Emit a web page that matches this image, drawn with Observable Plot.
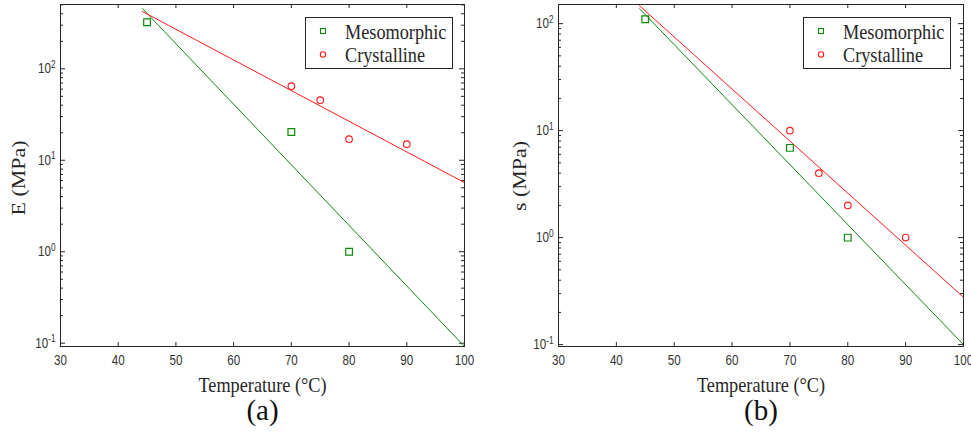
<!DOCTYPE html>
<html><head><meta charset="utf-8">
<script src="https://cdn.jsdelivr.net/npm/d3@7"></script>
<script src="https://cdn.jsdelivr.net/npm/@observablehq/plot@0.6"></script>
<style>
body{margin:0;background:#fff;}
#wrap{position:relative;width:971px;height:433px;overflow:hidden;background:#fff;}
.panel{position:absolute;top:0;}
.legend{position:absolute;top:17px;overflow:visible;}
</style></head>
<body><div id="wrap"></div>
<script>
// ---- data ----
const temperatureTicks = [30, 40, 50, 60, 70, 80, 90, 100];
const logMajorTicks = [0.1, 1, 10, 100];
const seriesNames = ["Mesomorphic", "Crystalline"];
const panelTags = ["(a)", "(b)"];
const yLabels = ["E (MPa)", "s (MPa)"];
const xLabel = "Temperature (°C)";

// panel (a): modulus E
const aMesoT = [45, 70, 80];
const aMesoV = [323, 20.4, 1.0];
const aCrysT = [70, 75, 80, 90];
const aCrysV = [64.6, 45.4, 17, 15];
const aMesoFitT = [44.2, 100];
const aMesoFitV = [456, 0.092];
const aCrysFitT = [44.2, 100];
const aCrysFitV = [423, 5.7];

// panel (b): strength s
const bMesoT = [45, 70, 80];
const bMesoV = [110, 6.9, 1.0];
const bCrysT = [70, 75, 80, 90];
const bCrysV = [10, 4, 2, 1];
const bMesoFitT = [44.0, 100];
const bMesoFitV = [138, 0.1];
const bCrysFitT = [44.0, 100];
const bCrysFitV = [147, 0.277];

const GREEN = "#0b8a0b";
const RED = "#ff1a1a";
const INK = "#262626";
const TICKINK = "#333";
const SERIF = "'Liberation Serif', 'Times New Roman', serif";
const SQ = 0.83; // horizontal squeeze of the figure's lettering

const zip = (T, V) => T.map((t, i) => ({t, v: V[i]}));

function logMinors(domain) {
  const out = [];
  for (let p = -2; p <= 3; p++) for (let m = 2; m <= 9; m++) {
    const v = m * Math.pow(10, p);
    if (v >= domain[0] && v <= domain[1]) out.push(v);
  }
  return out;
}

function makePanel(cfg) {
  const height = 433, marginTop = 4, marginBottom = 87;
  const {width, marginLeft, marginRight, yDomain} = cfg;
  const pw = width - marginLeft - marginRight;
  const ph = height - marginTop - marginBottom;
  const minors = logMinors(yDomain);
  const svg = Plot.plot({
    width, height, marginTop, marginBottom, marginLeft, marginRight,
    x: {domain: [30, 100], label: null},
    y: {type: "log", domain: yDomain, label: null},
    style: {fontFamily: "'Liberation Sans', Arial, sans-serif", fontSize: "14px", color: TICKINK, background: "white", overflow: "visible"},
    marks: [
      Plot.axisX({ticks: temperatureTicks, tickSize: 0, tickPadding: 9, tickFormat: d => String(d), label: null, fill: TICKINK}),
      Plot.axisY({ticks: logMajorTicks, tickSize: 0, tickPadding: 5, tickFormat: d => "10^" + Math.round(Math.log10(d)), label: null, fill: TICKINK}),
      Plot.tickX(temperatureTicks, {x: d => d, insetTop: ph - 4, stroke: INK}),
      Plot.tickX(temperatureTicks, {x: d => d, insetBottom: ph - 4, stroke: INK}),
      Plot.tickY(logMajorTicks, {y: d => d, insetRight: pw - 5, stroke: INK}),
      Plot.tickY(logMajorTicks, {y: d => d, insetLeft: pw - 5, stroke: INK}),
      Plot.tickY(minors, {y: d => d, insetRight: pw - 3, stroke: INK}),
      Plot.tickY(minors, {y: d => d, insetLeft: pw - 3, stroke: INK}),
      Plot.line(zip(cfg.mesoFitT, cfg.mesoFitV), {x: "t", y: "v", stroke: GREEN, strokeWidth: 1, clip: true}),
      Plot.line(zip(cfg.crysFitT, cfg.crysFitV), {x: "t", y: "v", stroke: RED, strokeWidth: 1, clip: true}),
      Plot.dot(zip(cfg.mesoT, cfg.mesoV), {x: "t", y: "v", symbol: "square", r: 3.8, stroke: GREEN, strokeWidth: 1.2}),
      Plot.dot(zip(cfg.crysT, cfg.crysV), {x: "t", y: "v", symbol: "circle", r: 3.3, stroke: RED, strokeWidth: 1.1}),
      Plot.frame({stroke: INK}),
      Plot.text([xLabel], {frameAnchor: "bottom", dy: 38, textAnchor: "middle", lineAnchor: "middle", fontFamily: SERIF, fontSize: 22, fill: INK}),
      Plot.text([cfg.tag], {frameAnchor: "bottom", dy: 64, textAnchor: "middle", lineAnchor: "middle", fontFamily: SERIF, fontSize: 29, fill: "#111"}),
      Plot.text([cfg.yLabel], {frameAnchor: "left", dx: cfg.yLabelDx, rotate: -90, textAnchor: "middle", lineAnchor: "middle", fontFamily: SERIF, fontSize: 22, fill: INK})
    ]
  });
  const root = d3.select(svg);
  // superscript exponents on log tick labels
  root.selectAll('g[aria-label="y-axis tick label"] text').each(function() {
    const m = this.textContent.match(/^10\^(-?\d+)$/);
    if (!m) return;
    const t = d3.select(this);
    t.text("10");
    t.append("tspan").attr("dy", "-0.55em").attr("font-size", "10px").text(m[1]);
  });
  // squeeze the figure lettering horizontally (not the panel tag)
  root.selectAll('g[aria-label="x-axis tick label"] text, g[aria-label="y-axis tick label"] text').each(function() {
    this.setAttribute("transform", (this.getAttribute("transform") || "") + ` scale(${SQ},1)`);
  });
  let yLabelEl = null;
  root.selectAll('g[aria-label="text"] text').each(function() {
    const s = this.textContent;
    if (s === cfg.tag) return;
    const isY = s === cfg.yLabel;
    if (isY) yLabelEl = this;
    const sc = isY ? ` scale(1,${SQ})` : ` scale(${SQ},1)`;
    this.setAttribute("transform", (this.getAttribute("transform") || "") + sc);
  });
  svg.classList.add("panel");
  svg.style.left = cfg.left + "px";
  return {svg, yLabelEl};
}

function makeLegend(left) {
  const w = 148, h = 52;
  const s = d3.create("svg").attr("class", "legend").attr("width", w).attr("height", h)
    .style("left", left + "px");
  s.append("rect").attr("x", 0.5).attr("y", 0.5).attr("width", w - 1).attr("height", h - 1)
    .attr("fill", "white").attr("stroke", INK);
  s.append("rect").attr("x", 15.5).attr("y", 11.5).attr("width", 5).attr("height", 5)
    .attr("fill", "none").attr("stroke", GREEN).attr("stroke-width", 1.1);
  s.append("circle").attr("cx", 18).attr("cy", 37.5).attr("r", 2.7)
    .attr("fill", "none").attr("stroke", RED).attr("stroke-width", 1.1);
  [[seriesNames[0], 21.5], [seriesNames[1], 45]].forEach(([txt, yb]) => {
    s.append("text").attr("transform", `translate(40,${yb}) scale(${SQ},1)`)
      .attr("font-family", SERIF).attr("font-size", 22).attr("fill", INK).text(txt);
  });
  return s.node();
}

const wrap = document.getElementById("wrap");
const pa = makePanel({
  left: 0, width: 485, marginLeft: 60, marginRight: 21, yDomain: [0.092, 505],
  mesoT: aMesoT, mesoV: aMesoV, crysT: aCrysT, crysV: aCrysV,
  mesoFitT: aMesoFitT, mesoFitV: aMesoFitV, crysFitT: aCrysFitT, crysFitV: aCrysFitV,
  tag: panelTags[0], yLabel: yLabels[0], yLabelDx: -41
});
const pb = makePanel({
  left: 490, width: 481, marginLeft: 68, marginRight: 8, yDomain: [0.096, 151],
  mesoT: bMesoT, mesoV: bMesoV, crysT: bCrysT, crysV: bCrysV,
  mesoFitT: bMesoFitT, mesoFitV: bMesoFitV, crysFitT: bCrysFitT, crysFitV: bCrysFitV,
  tag: panelTags[1], yLabel: yLabels[1], yLabelDx: -38
});
wrap.appendChild(pa.svg);
wrap.appendChild(pb.svg);
wrap.appendChild(makeLegend(305));
wrap.appendChild(makeLegend(803));

// centre the rotated y labels vertically on the frame, as in the reference
function centreVert(el, cy) {
  if (!el) return;
  const wr = wrap.getBoundingClientRect();
  const r = el.getBoundingClientRect();
  const shift = cy - ((r.top + r.bottom) / 2 - wr.top);
  el.setAttribute("transform", `translate(0,${shift.toFixed(2)}) ` + el.getAttribute("transform"));
}
centreVert(pa.yLabelEl, 178);
centreVert(pb.yLabelEl, 176);
</script>
</body></html>
